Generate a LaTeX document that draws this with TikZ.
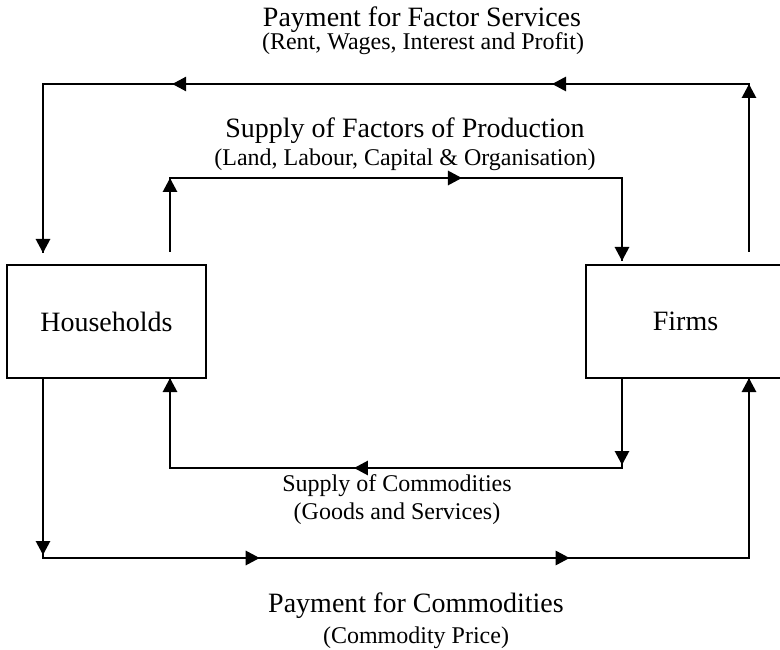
\documentclass[tikz,border=0pt]{standalone}
\usepackage{fontspec}
\setmainfont{Liberation Serif}
\usetikzlibrary{positioning}
\usetikzlibrary{arrows.meta}
\usetikzlibrary{calc}

\begin{document}
\begin{tikzpicture}[
        x = 1pt, y = -1pt,
        sector/.style = {
            draw,
            rectangle,
            line width = 1.3pt,
            minimum width = 199pt,
            minimum height = 113pt,
            inner sep = 0pt,
            outer sep = 0pt,
            font = \fontsize{28}{30}\selectfont
        },
        big/.style = {font = \fontsize{28}{30}\selectfont, anchor = base, inner sep = 0pt},
        small/.style = {font = \fontsize{24}{26}\selectfont, anchor = base, inner sep = 0pt},
        flow/.style = {line width = 2.2pt},
        head/.style = {line width = 2.8pt, -{Triangle[length=14pt, width=14pt]}},
        node distance = {380pt}
    ]
    \useasboundingbox (0,0) rectangle (780,650);

    \node[sector] (hh) at (106.5, 321.5) {Households};
    \node[sector, right = of hh] (firms) {Firms};

    \coordinate (fs-r) at (749, 84);
    \coordinate (fs-l) at (43, 84);
    \coordinate (fp-l) at (170, 178);
    \coordinate (fp-r) at (622, 178);
    \coordinate (sc-r) at (622, 468);
    \coordinate (sc-l) at (170, 468);
    \coordinate (pc-l) at (43, 558);
    \coordinate (pc-r) at (749, 558);

    % payment for factor services
    \draw[flow] ([yshift=13pt]firms.north -| fs-r) -- (fs-r) -- (fs-l) -- ([yshift=12pt]hh.north -| fs-l);
    \draw[head] ([yshift=13pt]firms.north -| fs-r) -- (fs-r);
    \draw[head] ($(fs-r)!0.201!(fs-l)$) -- ($(fs-r)!0.279!(fs-l)$);
    \draw[head] ($(fs-r)!0.562!(fs-l)$) -- ($(fs-r)!0.817!(fs-l)$);
    \draw[head] (fs-l) -- ([yshift=12pt]hh.north -| fs-l);

    % supply of factors
    \draw[flow] ([yshift=13pt]hh.north -| fp-l) -- (fp-l) -- (fp-r) -- ([yshift=4pt]firms.north -| fp-r);
    \draw[head] ([yshift=13pt]hh.north -| fp-l) -- (fp-l);
    \draw[head] ($(fp-l)!0.363!(fp-r)$) -- ($(fp-l)!0.646!(fp-r)$);
    \draw[head] (fp-r) -- ([yshift=4pt]firms.north -| fp-r);

    % supply of commodities
    \draw[flow] (firms.south -| sc-r) -- (sc-r) -- (sc-l) -- (hh.south -| sc-l);
    \draw[head] (firms.south -| sc-r) -- ([yshift=3pt]sc-r);
    \draw[head] ($(sc-r)!0.314!(sc-l)$) -- ($(sc-r)!0.593!(sc-l)$);
    \draw[head] ([yshift=4pt]sc-l) -- (hh.south -| sc-l);

    % payment for commodities
    \draw[flow] (hh.south -| pc-l) -- (pc-l) -- (pc-r) -- (firms.south -| pc-r);
    \draw[head] (hh.south -| pc-l) -- ([yshift=3pt]pc-l);
    \draw[head] ($(pc-l)!0.207!(pc-r)$) -- ($(pc-l)!0.307!(pc-r)$);
    \draw[head] ($(pc-l)!0.619!(pc-r)$) -- ($(pc-l)!0.746!(pc-r)$);
    \draw[head] (pc-r) -- (firms.south -| pc-r);

    \node[big] (pfs) at (422, 27) {Payment for Factor Services};
    \node[small] (pfs-note) at (423, 50) {(Rent, Wages, Interest and Profit)};
    \node[big] (sfp) at (405, 138) {Supply of Factors of Production};
    \node[small] (sfp-note) at (405, 166) {(Land, Labour, Capital \& Organisation)};
    \node[small] (sc) at (397, 491) {Supply of Commodities};
    \node[small] (sc-note) at (397, 519) {(Goods and Services)};
    \node[big] (pc) at (416, 612) {Payment for Commodities};
    \node[small] (pc-note) at (416, 643) {(Commodity Price)};
\end{tikzpicture}
\end{document}
